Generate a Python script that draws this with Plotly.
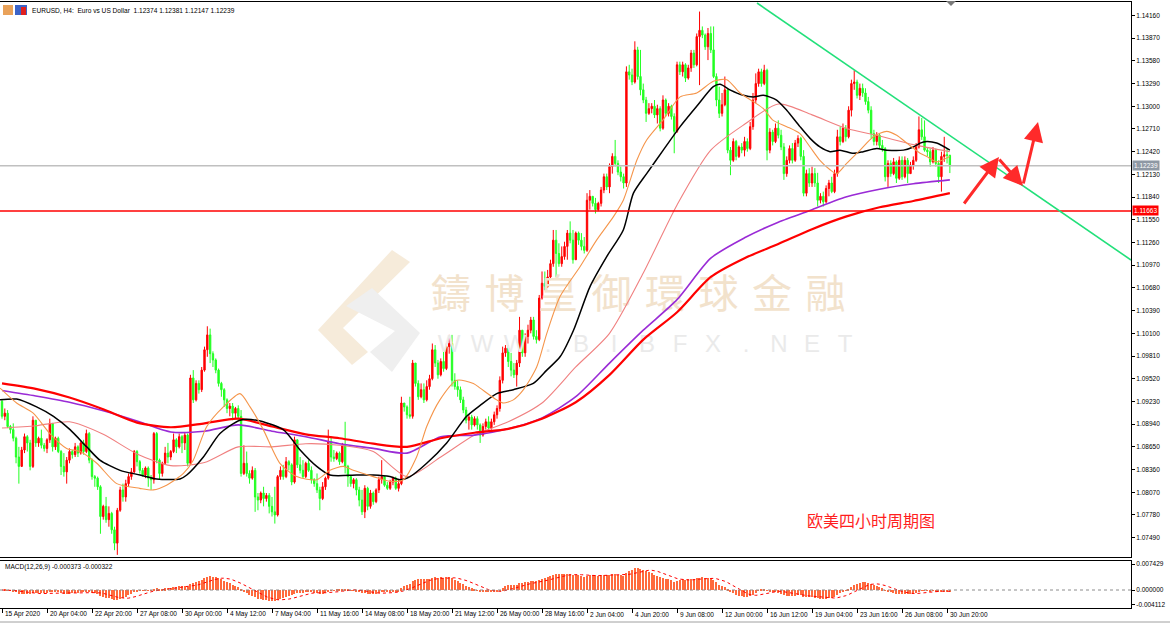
import plotly.graph_objects as go
import pandas as pd

W, H = 1170, 627

# ---------------- data (EURUSD H4) ----------------
first_open = 1.0923
closes = [
    1.0904, 1.0908, 1.0891, 1.0887, 1.0876, 1.0852, 1.0840, 1.0861, 1.0878, 1.0870,
    1.0840, 1.0899, 1.0870, 1.0876, 1.0867, 1.0863, 1.0874, 1.0895, 1.0865, 1.0876,
    1.0859, 1.0840, 1.0833, 1.0848, 1.0859, 1.0855, 1.0865, 1.0857, 1.0870, 1.0859,
    1.0882, 1.0848, 1.0827, 1.0825, 1.0814, 1.0776, 1.0789, 1.0772, 1.0780, 1.0759,
    1.0742, 1.0784, 1.0810, 1.0801, 1.0818, 1.0827, 1.0833, 1.0859, 1.0846, 1.0835,
    1.0829, 1.0838, 1.0825, 1.0823, 1.0882, 1.0848, 1.0831, 1.0844, 1.0857, 1.0852,
    1.0859, 1.0874, 1.0865, 1.0878, 1.0870, 1.0880, 1.0844, 1.0953, 1.0925, 1.0946,
    1.0938, 1.0963, 1.0989, 1.1008, 1.0984, 1.0976, 1.0963, 1.0946, 1.0938, 1.0925,
    1.0914, 1.0917, 1.0908, 1.0914, 1.0904, 1.0831, 1.0844, 1.0831, 1.0825, 1.0835,
    1.0801, 1.0797, 1.0806, 1.0799, 1.0803, 1.0789, 1.0782, 1.0778, 1.0827, 1.0835,
    1.0827, 1.0846, 1.0842, 1.0820, 1.0874, 1.0842, 1.0835, 1.0827, 1.0844, 1.0835,
    1.0823, 1.0818, 1.0810, 1.0799, 1.0814, 1.0825, 1.0872, 1.0852, 1.0850, 1.0857,
    1.0846, 1.0867, 1.0840, 1.0827, 1.0818, 1.0823, 1.0810, 1.0797, 1.0782, 1.0812,
    1.0789, 1.0806, 1.0795, 1.0810, 1.0823, 1.0827, 1.0816, 1.0812, 1.0820, 1.0825,
    1.0812, 1.0818, 1.0921, 1.0916, 1.0906, 1.0904, 1.0972, 1.0946, 1.0929, 1.0938,
    1.0925, 1.0942, 1.0952, 1.0989, 1.0972, 1.0957, 1.0974, 1.0965, 1.0993, 1.0997,
    1.0950, 1.0942, 1.0938, 1.0925, 1.0912, 1.0899, 1.0903, 1.0893, 1.0901, 1.0893,
    1.0880, 1.0891, 1.0897, 1.0889, 1.0897, 1.0906, 1.0914, 1.0950, 1.0985, 1.0991,
    1.0974, 1.0963, 1.0957, 1.0972, 1.1014, 1.0985, 1.1006, 1.1014, 1.1027, 1.1006,
    1.1002, 1.1055, 1.1074, 1.1070, 1.1082, 1.1099, 1.1129, 1.1112, 1.1099, 1.1108,
    1.1121, 1.1138, 1.1129, 1.1104, 1.1138, 1.1129, 1.1121, 1.1116, 1.1180, 1.1185,
    1.1176, 1.1168, 1.1176, 1.1193, 1.1210, 1.1197, 1.1223, 1.1236, 1.1227, 1.1216,
    1.1210, 1.1202, 1.1344, 1.1340, 1.1331, 1.1372, 1.1338, 1.1321, 1.1308, 1.1291,
    1.1297, 1.1300, 1.1289, 1.1297, 1.1272, 1.1308, 1.1291, 1.1300, 1.1287, 1.1268,
    1.1353, 1.1344, 1.1353, 1.1336, 1.1349, 1.1368, 1.1353, 1.1389, 1.1397, 1.1391,
    1.1376, 1.1393, 1.1372, 1.1338, 1.1308, 1.1291, 1.1302, 1.1321, 1.1244, 1.1231,
    1.1255, 1.1236, 1.1248, 1.1244, 1.1255, 1.1246, 1.1274, 1.1308, 1.1329, 1.1344,
    1.1329, 1.1346, 1.1244, 1.1267, 1.1255, 1.1272, 1.1263, 1.1248, 1.1214, 1.1231,
    1.1246, 1.1231, 1.1253, 1.1259, 1.1236, 1.1189, 1.1214, 1.1202, 1.1214, 1.1202,
    1.1180, 1.1185, 1.1178, 1.1195, 1.1202, 1.1191, 1.1214, 1.1261, 1.1255, 1.1272,
    1.1261, 1.1295, 1.1329, 1.1331, 1.1314, 1.1323, 1.1317, 1.1306, 1.1295, 1.1265,
    1.1255, 1.1263, 1.1250, 1.1246, 1.1210, 1.1227, 1.1214, 1.1229, 1.1208, 1.1231,
    1.1210, 1.1231, 1.1214, 1.1225, 1.1231, 1.1248, 1.1270, 1.1261, 1.1244, 1.1242,
    1.1229, 1.1244, 1.1227, 1.1210, 1.1236, 1.1238, 1.12374, 1.12239,
]
highs = [
    1.0925, 1.0914, 1.0912, 1.0893, 1.0895, 1.0878, 1.0865, 1.0865, 1.0882, 1.0880,
    1.0874, 1.0904, 1.0899, 1.0878, 1.0887, 1.0870, 1.0876, 1.0901, 1.0895, 1.0878,
    1.0878, 1.0861, 1.0857, 1.0852, 1.0863, 1.0861, 1.0870, 1.0867, 1.0872, 1.0874,
    1.0887, 1.0884, 1.0850, 1.0829, 1.0827, 1.0816, 1.0791, 1.0801, 1.0789, 1.0782,
    1.0763, 1.0787, 1.0814, 1.0818, 1.0823, 1.0831, 1.0838, 1.0861, 1.0861, 1.0848,
    1.0838, 1.0840, 1.0840, 1.0829, 1.0884, 1.0884, 1.0850, 1.0846, 1.0865, 1.0870,
    1.0861, 1.0882, 1.0876, 1.0882, 1.0880, 1.0884, 1.0882, 1.0957, 1.0963, 1.0950,
    1.0950, 1.0967, 1.0993, 1.1019, 1.1016, 1.0987, 1.0978, 1.0965, 1.0948, 1.0940,
    1.0927, 1.0921, 1.0921, 1.0916, 1.0918, 1.0912, 1.0867, 1.0859, 1.0835, 1.0840,
    1.0838, 1.0806, 1.0808, 1.0814, 1.0806, 1.0806, 1.0801, 1.0814, 1.0829, 1.0840,
    1.0842, 1.0852, 1.0848, 1.0844, 1.0878, 1.0874, 1.0852, 1.0848, 1.0846, 1.0848,
    1.0840, 1.0825, 1.0831, 1.0814, 1.0820, 1.0827, 1.0887, 1.0878, 1.0861, 1.0859,
    1.0859, 1.0870, 1.0897, 1.0842, 1.0829, 1.0825, 1.0825, 1.0814, 1.0810, 1.0816,
    1.0814, 1.0810, 1.0808, 1.0812, 1.0827, 1.0848, 1.0827, 1.0820, 1.0823, 1.0827,
    1.0827, 1.0823, 1.0929, 1.0921, 1.0918, 1.0929, 1.0976, 1.0972, 1.0950, 1.0946,
    1.0946, 1.0950, 1.0957, 1.0997, 1.0995, 1.0976, 1.0978, 1.0987, 1.0997, 1.1008,
    1.1008, 1.0959, 1.0950, 1.0942, 1.0929, 1.0916, 1.0906, 1.0906, 1.0904, 1.0904,
    1.0895, 1.0895, 1.0901, 1.0904, 1.0901, 1.0910, 1.0918, 1.0955, 1.0993, 1.0995,
    1.0995, 1.0985, 1.0972, 1.0976, 1.1031, 1.1010, 1.1010, 1.1021, 1.1031, 1.1031,
    1.1014, 1.1059, 1.1089, 1.1089, 1.1091, 1.1104, 1.1142, 1.1142, 1.1125, 1.1121,
    1.1127, 1.1142, 1.1153, 1.1142, 1.1140, 1.1140, 1.1138, 1.1133, 1.1189, 1.1193,
    1.1185, 1.1183, 1.1178, 1.1197, 1.1214, 1.1214, 1.1227, 1.1240, 1.1257, 1.1231,
    1.1223, 1.1214, 1.1351, 1.1353, 1.1348, 1.1383, 1.1376, 1.1372, 1.1329, 1.1312,
    1.1304, 1.1304, 1.1308, 1.1302, 1.1300, 1.1314, 1.1310, 1.1304, 1.1302, 1.1291,
    1.1357, 1.1357, 1.1357, 1.1355, 1.1353, 1.1372, 1.1372, 1.1393, 1.1421, 1.1402,
    1.1393, 1.1400, 1.1402, 1.1402, 1.1342, 1.1325, 1.1317, 1.1338, 1.1323, 1.1248,
    1.1259, 1.1257, 1.1250, 1.1253, 1.1261, 1.1259, 1.1280, 1.1317, 1.1342, 1.1348,
    1.1348, 1.1353, 1.1348, 1.1272, 1.1270, 1.1278, 1.1282, 1.1270, 1.1253, 1.1236,
    1.1250, 1.1253, 1.1257, 1.1263, 1.1261, 1.1244, 1.1219, 1.1221, 1.1223, 1.1221,
    1.1215, 1.1189, 1.1191, 1.1199, 1.1206, 1.1210, 1.1219, 1.1270, 1.1274, 1.1278,
    1.1276, 1.1300, 1.1334, 1.1346, 1.1334, 1.1329, 1.1329, 1.1323, 1.1312, 1.1300,
    1.1270, 1.1267, 1.1265, 1.1257, 1.1248, 1.1231, 1.1231, 1.1234, 1.1231, 1.1236,
    1.1236, 1.1236, 1.1234, 1.1229, 1.1236, 1.1253, 1.1287, 1.1285, 1.1282, 1.1248,
    1.1246, 1.1248, 1.1246, 1.1231, 1.1242, 1.1261, 1.1246, 1.12381,
]
lows = [
    1.0901, 1.0899, 1.0889, 1.0882, 1.0872, 1.0844, 1.0818, 1.0840, 1.0857, 1.0859,
    1.0835, 1.0838, 1.0865, 1.0865, 1.0863, 1.0859, 1.0857, 1.0870, 1.0859, 1.0861,
    1.0857, 1.0829, 1.0827, 1.0818, 1.0844, 1.0850, 1.0852, 1.0852, 1.0855, 1.0855,
    1.0857, 1.0844, 1.0823, 1.0814, 1.0810, 1.0754, 1.0772, 1.0768, 1.0763, 1.0754,
    1.0733, 1.0727, 1.0782, 1.0795, 1.0795, 1.0814, 1.0823, 1.0831, 1.0840, 1.0831,
    1.0827, 1.0825, 1.0814, 1.0810, 1.0818, 1.0844, 1.0823, 1.0827, 1.0842, 1.0844,
    1.0848, 1.0857, 1.0857, 1.0863, 1.0857, 1.0861, 1.0840, 1.0842, 1.0921, 1.0923,
    1.0933, 1.0935, 1.0961, 1.0980, 1.0972, 1.0967, 1.0959, 1.0942, 1.0929, 1.0916,
    1.0908, 1.0904, 1.0899, 1.0901, 1.0899, 1.0827, 1.0829, 1.0827, 1.0818, 1.0823,
    1.0782, 1.0784, 1.0793, 1.0789, 1.0795, 1.0780, 1.0776, 1.0767, 1.0776, 1.0823,
    1.0823, 1.0825, 1.0835, 1.0816, 1.0818, 1.0838, 1.0831, 1.0825, 1.0825, 1.0833,
    1.0818, 1.0814, 1.0806, 1.0784, 1.0797, 1.0810, 1.0823, 1.0846, 1.0846, 1.0848,
    1.0842, 1.0844, 1.0831, 1.0814, 1.0814, 1.0812, 1.0803, 1.0789, 1.0778, 1.0774,
    1.0784, 1.0786, 1.0791, 1.0793, 1.0806, 1.0818, 1.0814, 1.0810, 1.0810, 1.0816,
    1.0810, 1.0808, 1.0816, 1.0910, 1.0901, 1.0901, 1.0901, 1.0942, 1.0925, 1.0927,
    1.0921, 1.0923, 1.0938, 1.0950, 1.0967, 1.0952, 1.0955, 1.0961, 1.0963, 1.0984,
    1.0942, 1.0938, 1.0929, 1.0921, 1.0908, 1.0895, 1.0887, 1.0887, 1.0891, 1.0887,
    1.0870, 1.0878, 1.0887, 1.0885, 1.0887, 1.0893, 1.0901, 1.0910, 1.0946, 1.0980,
    1.0967, 1.0955, 1.0953, 1.0942, 1.0967, 1.0980, 1.0980, 1.0997, 1.1010, 1.1002,
    1.0997, 1.1000, 1.1053, 1.1065, 1.1068, 1.1078, 1.1095, 1.1082, 1.1095, 1.1095,
    1.1104, 1.1104, 1.1125, 1.1099, 1.1104, 1.1123, 1.1116, 1.1112, 1.1114, 1.1168,
    1.1172, 1.1163, 1.1166, 1.1172, 1.1189, 1.1193, 1.1189, 1.1214, 1.1223, 1.1212,
    1.1204, 1.1195, 1.1197, 1.1334, 1.1327, 1.1329, 1.1334, 1.1314, 1.1304, 1.1280,
    1.1289, 1.1291, 1.1285, 1.1278, 1.1268, 1.1270, 1.1287, 1.1287, 1.1283, 1.1240,
    1.1266, 1.1340, 1.1338, 1.1331, 1.1334, 1.1344, 1.1349, 1.1351, 1.1327, 1.1387,
    1.1372, 1.1359, 1.1368, 1.1336, 1.1300, 1.1285, 1.1287, 1.1300, 1.1240, 1.1212,
    1.1229, 1.1231, 1.1234, 1.1240, 1.1236, 1.1242, 1.1244, 1.1270, 1.1304, 1.1325,
    1.1325, 1.1327, 1.1231, 1.1240, 1.1250, 1.1253, 1.1259, 1.1244, 1.1206, 1.1210,
    1.1227, 1.1227, 1.1229, 1.1248, 1.1231, 1.1185, 1.1185, 1.1197, 1.1197, 1.1197,
    1.1172, 1.1176, 1.1172, 1.1176, 1.1185, 1.1189, 1.1189, 1.1210, 1.1250, 1.1253,
    1.1255, 1.1259, 1.1287, 1.1321, 1.1310, 1.1308, 1.1312, 1.1302, 1.1291, 1.1259,
    1.1250, 1.1250, 1.1246, 1.1242, 1.1204, 1.1197, 1.1210, 1.1212, 1.1202, 1.1206,
    1.1206, 1.1208, 1.1202, 1.1214, 1.1219, 1.1229, 1.1246, 1.1257, 1.1242, 1.1236,
    1.1223, 1.1227, 1.1223, 1.1202, 1.1191, 1.1229, 1.1227, 1.12147,
]
assert len(closes) == len(highs) == len(lows)
opens = [first_open] + closes[:-1]
bar_idx = list(range(len(closes)))

# moving averages (bar index, price)
ma_idx = [0, 12, 24, 36, 48, 60, 72, 84, 96, 108, 120, 132, 144, 156, 168, 180, 192,
          204, 216, 228, 240, 252, 264, 276, 288, 300, 312, 324, 337]
ma_red = [1.0946, 1.0939, 1.0928, 1.0913, 1.0896, 1.0890, 1.0895, 1.0901, 1.0891, 1.0881,
          1.0876, 1.0869, 1.0865, 1.0876, 1.0883, 1.0888, 1.0901, 1.0922, 1.0957, 1.1002,
          1.1037, 1.1082, 1.1106, 1.1124, 1.1143, 1.1159, 1.1171, 1.1179, 1.1189]
ma_purple = [1.0937, 1.0930, 1.0922, 1.0911, 1.0898, 1.0884, 1.0885, 1.0893, 1.0885, 1.0878,
             1.0869, 1.0863, 1.0857, 1.0878, 1.0880, 1.0888, 1.0902, 1.0929, 1.0972, 1.1014,
             1.1053, 1.1106, 1.1132, 1.1152, 1.1168, 1.1184, 1.1194, 1.1201, 1.1206]
ma_salmon = [1.0889, 1.0892, 1.0897, 1.0881, 1.0856, 1.0841, 1.0845, 1.0865, 1.0865, 1.0869,
             1.0867, 1.0859, 1.0827, 1.0852, 1.0880, 1.0897, 1.0921, 1.0967, 1.1010, 1.1087,
             1.1174, 1.1244, 1.1277, 1.1303, 1.1289, 1.1272, 1.1262, 1.1251, 1.1242]
orange_idx = [-0.7, 5.2, 11.1, 17.0, 23.0, 27.7, 33.7, 40.8, 49.0, 53.8, 58.5, 64.5, 68.0,
              72.8, 78.7, 84.6, 88.2, 92.9, 98.8, 104.8, 111.9, 116.6, 121.4, 124.9, 132.0,
              137.9, 142.7, 147.4, 151.0, 155.7, 161.7, 167.6, 170.0, 175.9, 178.3, 181.8,
              185.4, 190.1, 193.7, 198.4, 205.5, 211.4, 217.4, 220.9, 225.7, 229.2, 235.1,
              241.1, 247.0, 252.9, 257.7, 262.4, 267.1, 270.7, 274.2, 279.0, 283.7, 287.3,
              290.8, 294.4, 296.8, 300.3, 305.1, 309.8, 314.5, 318.1, 321.7, 326.4, 328.8,
              332.3, 337.0]
orange_val = [1.0940, 1.0921, 1.0908, 1.0882, 1.0863, 1.0859, 1.0844, 1.0818, 1.0812, 1.0810,
              1.0816, 1.0831, 1.0848, 1.0891, 1.0916, 1.0933, 1.0916, 1.0887, 1.0844, 1.0827,
              1.0823, 1.0835, 1.0840, 1.0835, 1.0827, 1.0821, 1.0823, 1.0852, 1.0891, 1.0925,
              1.0950, 1.0946, 1.0940, 1.0925, 1.0921, 1.0925, 1.0938, 1.0967, 1.1010, 1.1057,
              1.1095, 1.1129, 1.1159, 1.1180, 1.1231, 1.1257, 1.1283, 1.1312, 1.1317, 1.1332,
              1.1334, 1.1317, 1.1306, 1.1297, 1.1282, 1.1274, 1.1265, 1.1248, 1.1231, 1.1219,
              1.1214, 1.1227, 1.1244, 1.1261, 1.1268, 1.1263, 1.1253, 1.1240, 1.1236, 1.1229,
              1.1236]
black_idx = [-0.7, 5.2, 12.3, 18.3, 24.2, 30.1, 34.8, 42.0, 49.1, 55.0, 63.3, 65.7, 71.6,
             77.5, 84.6, 90.5, 100.0, 106.0, 111.9, 116.6, 126.1, 132.0, 137.9, 141.5, 145.1,
             151.0, 158.1, 165.2, 170.0, 175.9, 181.8, 188.9, 193.7, 198.4, 203.2, 209.1,
             215.0, 220.9, 224.5, 229.2, 235.1, 241.1, 247.0, 252.9, 255.3, 258.8, 263.6,
             267.1, 270.7, 275.4, 279.0, 283.7, 287.3, 290.8, 294.4, 297.9, 302.7, 306.2,
             311.0, 314.5, 320.5, 324.0, 326.4, 328.8, 332.3, 337.0]
black_val = [1.0925, 1.0926, 1.0916, 1.0904, 1.0887, 1.0865, 1.0848, 1.0835, 1.0829, 1.0824,
             1.0824, 1.0829, 1.0852, 1.0882, 1.0899, 1.0899, 1.0887, 1.0861, 1.0840, 1.0829,
             1.0829, 1.0829, 1.0827, 1.0823, 1.0827, 1.0844, 1.0870, 1.0904, 1.0918, 1.0933,
             1.0938, 1.0946, 1.0963, 1.0980, 1.1014, 1.1070, 1.1108, 1.1142, 1.1189, 1.1214,
             1.1244, 1.1274, 1.1300, 1.1325, 1.1328, 1.1321, 1.1314, 1.1312, 1.1314, 1.1308,
             1.1295, 1.1274, 1.1259, 1.1248, 1.1242, 1.1244, 1.1240, 1.1242, 1.1246, 1.1244,
             1.1244, 1.1248, 1.1253, 1.1255, 1.1253, 1.1244]

price_ticks = [1.14160, 1.13870, 1.13580, 1.13290, 1.13000, 1.12710, 1.12420, 1.12130,
               1.11840, 1.11550, 1.11260, 1.10970, 1.10680, 1.10390, 1.10100, 1.09810,
               1.09520, 1.09230, 1.08940, 1.08650, 1.08360, 1.08070, 1.07780, 1.07490]
macd_ticks = [0.007429, 0.0, -0.004112]
macd_ticktext = ["0.007429", "0.000000", "-0.004112"]
time_idx = [0, 16, 32, 48, 64, 80, 96, 112, 128, 144, 160, 176, 192, 208, 224, 240,
            256, 272, 288, 304, 320, 336]
time_labels = ["15 Apr 2020", "20 Apr 04:00", "22 Apr 20:00", "27 Apr 08:00", "30 Apr 00:00",
               "4 May 12:00", "7 May 04:00", "11 May 16:00", "14 May 08:00", "18 May 20:00",
               "21 May 12:00", "26 May 00:00", "28 May 16:00", "2 Jun 04:00", "4 Jun 20:00",
               "9 Jun 08:00", "12 Jun 00:00", "16 Jun 12:00", "19 Jun 04:00", "23 Jun 16:00",
               "26 Jun 08:00", "30 Jun 20:00"]
bid_price = 1.12239
support_price = 1.11663

# MACD(12,26,9) computed from closes (MT4 style: SMA signal)
s = pd.Series(closes)
macd = s.ewm(span=12, adjust=False).mean() - s.ewm(span=26, adjust=False).mean()
signal = macd.rolling(9, min_periods=1).mean()

# ---------------- geometry ----------------
PLOT_R = 1131
X0, X1 = -0.71, 401.4
Y0, Y1 = 1.07243, 1.14332
M0, M1 = -0.00514, 0.00829
dom_x = [0, PLOT_R / W]
dom_main = [1 - 557 / H, 1 - 2 / H]
dom_macd = [1 - 608 / H, 1 - 561 / H]


def px2i(px):
    return X0 + (X1 - X0) * px / PLOT_R


def py2p(py):
    return Y1 - (Y1 - Y0) * (py - 2) / 555


def pp(px, py):
    return px / W, 1 - py / H


FONT = "Liberation Sans, Arial, sans-serif"
SMALL = 6.5

fig = go.Figure()

# watermark (behind data)
cn = list("鑄博皇御環球金融")
fig.add_trace(go.Scatter(
    x=[px2i(451 + k * 53.5) for k in range(len(cn))], y=[py2p(298)] * len(cn),
    mode="text", text=cn, textfont=dict(size=40, color="#F2E2CC", family="Noto Sans CJK TC"),
    hoverinfo="skip", xaxis="x", yaxis="y"))
wl = list("WWW.BIBFX.NET")
fig.add_trace(go.Scatter(
    x=[px2i(449 + k * 33.0) for k in range(len(wl))], y=[py2p(346)] * len(wl),
    mode="text", text=wl, textfont=dict(size=24, color="#EAEAEA", family="Liberation Sans"),
    hoverinfo="skip", xaxis="x", yaxis="y"))

# moving averages
for xs, ys, col, wd in [(ma_idx, ma_salmon, "#F08080", 1.1),
                        (ma_idx, ma_purple, "#9A2BD6", 1.6),
                        (ma_idx, ma_red, "#FF0000", 2.2),
                        (black_idx, black_val, "#000000", 1.5),
                        (orange_idx, orange_val, "#F5954A", 1.1)]:
    fig.add_trace(go.Scatter(x=xs, y=ys, mode="lines",
                             line=dict(color=col, width=wd, shape="spline", smoothing=0.7),
                             hoverinfo="skip", xaxis="x", yaxis="y"))

# candles
fig.add_trace(go.Candlestick(
    x=bar_idx, open=opens, high=highs, low=lows, close=closes,
    increasing=dict(line=dict(color="#FF0000", width=1), fillcolor="#FF0000"),
    decreasing=dict(line=dict(color="#22FF22", width=1), fillcolor="#22FF22"),
    whiskerwidth=0, hoverinfo="skip", xaxis="x", yaxis="y"))

# MACD
fig.add_trace(go.Bar(x=bar_idx, y=macd, width=0.45, marker=dict(color="#FF6A3D", line=dict(width=0)),
                     hoverinfo="skip", xaxis="x2", yaxis="y2"))
fig.add_trace(go.Scatter(x=bar_idx, y=signal, mode="lines",
                         line=dict(color="#FF0000", width=1, dash="dot"),
                         hoverinfo="skip", xaxis="x2", yaxis="y2"))

shapes = []
# horizontal levels
shapes.append(dict(type="line", xref="x domain", yref="y", x0=0, x1=1, y0=bid_price, y1=bid_price,
                   line=dict(color="#C0C0C0", width=1.5)))
shapes.append(dict(type="line", xref="x domain", yref="y", x0=0, x1=1, y0=support_price,
                   y1=support_price, line=dict(color="#FF0000", width=1.5)))
# trend line
shapes.append(dict(type="line", xref="x", yref="y", x0=px2i(757), y0=py2p(3), x1=px2i(1131),
                   y1=py2p(260), line=dict(color="#22E07A", width=1.6)))
# MACD zero level
shapes.append(dict(type="line", xref="x2 domain", yref="y2", x0=0, x1=1, y0=0, y1=0,
                   line=dict(color="#8C8C8C", width=1, dash="dot")))


def poly(points, color, layer="below"):
    path = "M " + " L ".join(f"{pp(a, b)[0]:.5f},{pp(a, b)[1]:.5f}" for a, b in points) + " Z"
    return dict(type="path", xref="paper", yref="paper", path=path, fillcolor=color,
                line=dict(width=0), layer=layer)


# logo (watermark) shapes
shapes.append(poly([(392, 250), (410, 262), (343, 328), (368, 352), (352, 365), (318, 330)], "#F6EBDA"))
shapes.append(poly([(346, 306), (372, 288), (420, 333), (392, 372), (370, 352), (395, 331)], "#EFEFEF"))
# chart shift marker
shapes.append(poly([(946, 1), (956, 1), (951, 6)], "#7A7A7A", "above"))
# bottom tab strip line
shapes.append(dict(type="line", xref="paper", yref="paper", x0=0, x1=1, y0=1 - 622 / H, y1=1 - 622 / H,
                   line=dict(color="#A0A0A0", width=1)))
# header icons
shapes.append(poly([(3, 5), (13, 5), (13, 15), (3, 15)], "#E9A25A", "above"))
shapes.append(poly([(15, 5), (27, 5), (27, 15), (15, 15)], "#3C64C8", "above"))
shapes.append(poly([(21, 7), (26, 7), (26, 15), (21, 15)], "#E02020", "above"))

annotations = []
annotations.append(dict(xref="paper", yref="paper", x=30 / W, y=1 - 10 / H, xanchor="left",
                        yanchor="middle", showarrow=False,
                        text="EURUSD, H4:  Euro vs US Dollar  1.12374 1.12381 1.12147 1.12239",
                        font=dict(family=FONT, size=6.6, color="#000000")))
annotations.append(dict(xref="paper", yref="paper", x=3 / W, y=1 - 567 / H, xanchor="left",
                        yanchor="middle", showarrow=False,
                        text="MACD(12,26,9) -0.000373 -0.000322",
                        font=dict(family=FONT, size=SMALL, color="#000000")))
for ti, tl in zip(time_idx, time_labels):
    annotations.append(dict(xref="x2", yref="paper", x=ti, y=1 - 614 / H, xanchor="left",
                            yanchor="middle", xshift=1, showarrow=False, text=tl,
                            font=dict(family=FONT, size=SMALL, color="#000000")))
# price boxes on the axis
annotations.append(dict(xref="paper", yref="y", x=(PLOT_R + 1) / W, y=bid_price, xanchor="left",
                        yanchor="middle", showarrow=False, text="1.12239", bgcolor="#8E98A4",
                        borderpad=1, font=dict(family=FONT, size=SMALL, color="#FFFFFF")))
annotations.append(dict(xref="paper", yref="y", x=(PLOT_R + 1) / W, y=support_price, xanchor="left",
                        yanchor="middle", showarrow=False, text="1.11663", bgcolor="#FF0000",
                        borderpad=1, font=dict(family=FONT, size=SMALL, color="#FFFFFF")))
# chart caption
annotations.append(dict(xref="x", yref="y", x=px2i(871), y=py2p(520), showarrow=False,
                        text="欧美四小时周期图",
                        font=dict(family="Noto Sans CJK SC", size=16, color="#FF1E1E")))
# red forecast arrows
for (tx, ty), (hx, hy) in [((963, 205), (999, 157)), ((998, 158), (1023, 186)),
                           ((1023, 185), (1038, 122))]:
    annotations.append(dict(xref="x", yref="y", axref="x", ayref="y",
                            x=px2i(hx), y=py2p(hy), ax=px2i(tx), ay=py2p(ty),
                            showarrow=True, arrowhead=2, arrowsize=1.3, arrowwidth=3,
                            arrowcolor="#FF2A2A", text=""))

axis_common = dict(showgrid=False, zeroline=False, showline=True, mirror=True,
                   linecolor="#000000", linewidth=1, automargin=False)
fig.update_layout(
    width=W, height=H, margin=dict(l=0, r=0, t=0, b=0, pad=0),
    paper_bgcolor="#FFFFFF", plot_bgcolor="#FFFFFF", showlegend=False,
    hovermode=False, bargap=0,
    xaxis=dict(domain=dom_x, range=[X0, X1], anchor="y", showticklabels=False, ticks="",
               rangeslider=dict(visible=False), **axis_common),
    yaxis=dict(domain=dom_main, range=[Y0, Y1], anchor="x", side="right",
               tickvals=price_ticks, ticktext=[f"{v:.5f}" for v in price_ticks],
               ticks="outside", ticklen=3, tickcolor="#000000",
               tickfont=dict(family=FONT, size=SMALL, color="#000000"), **axis_common),
    xaxis2=dict(domain=dom_x, range=[X0, X1], anchor="y2", showticklabels=False,
                tickvals=time_idx, ticks="outside", ticklen=4, tickcolor="#000000",
                rangeslider=dict(visible=False), **axis_common),
    yaxis2=dict(domain=dom_macd, range=[M0, M1], anchor="x2", side="right",
                tickvals=macd_ticks, ticktext=macd_ticktext, ticks="outside", ticklen=3,
                tickcolor="#000000", tickfont=dict(family=FONT, size=SMALL, color="#000000"),
                **axis_common),
    shapes=shapes, annotations=annotations,
)

fig.write_html("out.html", config={"displayModeBar": False},
               post_script="document.body.style.margin='0px';document.body.style.overflow='hidden';")
